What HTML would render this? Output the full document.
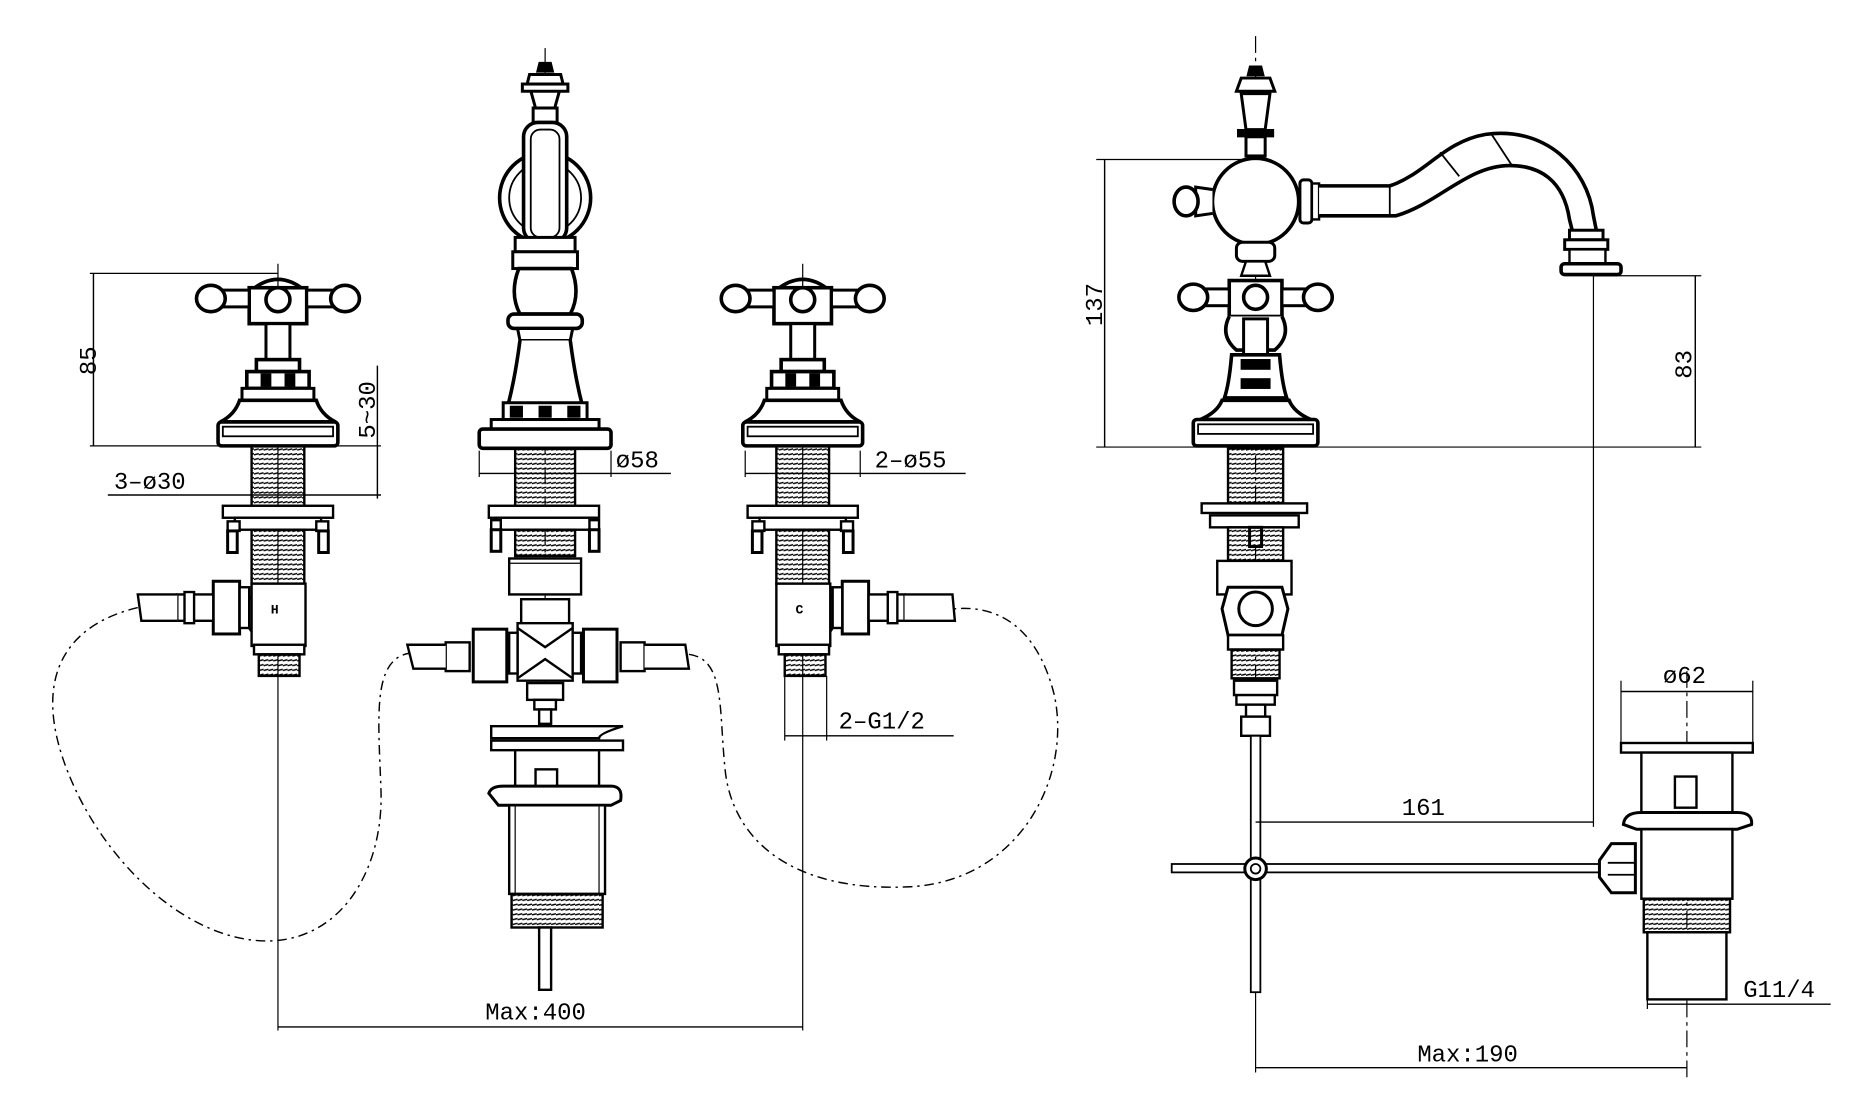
<!DOCTYPE html>
<html><head><meta charset="utf-8"><style>
html,body{margin:0;padding:0;background:#fff;}
svg{display:block}
text{font-family:"Liberation Mono","DejaVu Sans Mono",monospace;font-size:20px;fill:#000;stroke:none;font-weight:normal}
</style></head><body>
<svg width="1869" height="1105" viewBox="0 0 1560 922" xmlns="http://www.w3.org/2000/svg">
<defs>
<pattern id="th" width="4" height="4" patternUnits="userSpaceOnUse"><path d="M0 3.5L4 2.5" stroke="#000" stroke-width="1.2"/></pattern>
<g id="handle">
 <path d="M-22 14 Q0 -4 22 14" fill="none" stroke="#000" stroke-width="3"/>
 <rect x="-24" y="12" width="48" height="30" fill="#fff" stroke="#000" stroke-width="3"/>
 <circle cx="0" cy="22" r="10" fill="none" stroke="#000" stroke-width="3"/>
 <rect x="-48" y="14" width="24" height="14" fill="#fff" stroke="#000" stroke-width="2.5"/>
 <rect x="24" y="14" width="24" height="14" fill="#fff" stroke="#000" stroke-width="2.5"/>
 <ellipse cx="-56" cy="21" rx="12" ry="11" fill="#fff" stroke="#000" stroke-width="3"/>
 <ellipse cx="56" cy="21" rx="12" ry="11" fill="#fff" stroke="#000" stroke-width="3"/>
 <rect x="-10" y="42" width="20" height="30" fill="#fff" stroke="#000" stroke-width="2.5"/>
 <rect x="-18" y="72" width="36" height="10" fill="#fff" stroke="#000" stroke-width="3"/>
 <rect x="-26" y="82" width="52" height="14" fill="#fff" stroke="#000" stroke-width="3"/>
 <rect x="-14" y="84" width="8" height="10" fill="#000"/><rect x="6" y="84" width="8" height="10" fill="#000"/>
 <rect x="-30" y="96" width="60" height="10" fill="#fff" stroke="#000" stroke-width="2.5"/>
 <path d="M-32 106 Q-36 118 -48 124 L48 124 Q36 118 32 106Z" fill="#fff" stroke="#000" stroke-width="3"/>
 <rect x="-50" y="124" width="100" height="20" rx="3" fill="#fff" stroke="#000" stroke-width="3"/>
 <rect x="-46" y="128" width="92" height="8" fill="none" stroke="#000" stroke-width="1.5"/>
</g>
<g id="under">
 <rect x="-22" y="0" width="44" height="50" fill="url(#th)" stroke="#000" stroke-width="2"/>
 <rect x="-46" y="50" width="92" height="10" fill="#fff" stroke="#000" stroke-width="2"/>
 <rect x="-36" y="60" width="72" height="10" fill="#fff" stroke="#000" stroke-width="2"/>
 <rect x="-42" y="63" width="10" height="8" fill="#fff" stroke="#000" stroke-width="2"/>
 <rect x="32" y="63" width="10" height="8" fill="#fff" stroke="#000" stroke-width="2"/>
 <rect x="-42" y="71" width="8" height="18" fill="#fff" stroke="#000" stroke-width="2.5"/>
 <rect x="34" y="71" width="8" height="18" fill="#fff" stroke="#000" stroke-width="2.5"/>
 <rect x="-22" y="70" width="44" height="45" fill="url(#th)" stroke="#000" stroke-width="2"/>
</g>
</defs>
<g fill="none" stroke="#000">

<line x1="232" y1="220" x2="232" y2="860" stroke-width="1"/>
<use href="#handle" x="232" y="228"/>
<use href="#under" x="232" y="372"/>
<rect x="210" y="487" width="45" height="52" fill="#fff" stroke-width="2"/>
<path d="M210 497 Q198 512 210 527" stroke-width="2"/>
<rect x="178" y="485" width="22" height="44" fill="#fff" stroke-width="2.5"/>
<rect x="200" y="490" width="8" height="34" fill="#fff" stroke-width="2"/>
<rect x="148" y="496" width="30" height="22" fill="#fff" stroke-width="2"/>
<rect x="154" y="494" width="8" height="26" fill="#fff" stroke-width="2"/>
<path d="M148 496 L115 496 L118 518 L148 518" fill="#fff" stroke-width="2"/>
<text x="226" y="512" style="font-size:11px;font-weight:bold">H</text>
<rect x="212" y="538" width="42" height="8" fill="#fff" stroke-width="2"/>
<rect x="216" y="546" width="34" height="18" fill="url(#th)" stroke-width="2"/>
<line x1="78" y1="228" x2="78" y2="372" stroke-width="1.2"/>
<line x1="75" y1="228" x2="232" y2="228" stroke-width="1"/>
<line x1="75" y1="372" x2="190" y2="372" stroke-width="1"/>
<text transform="translate(80,313) rotate(-90)">85</text>
<line x1="315" y1="305" x2="315" y2="416" stroke-width="1.2"/>
<line x1="282" y1="372" x2="318" y2="372" stroke-width="1"/>
<line x1="90" y1="413" x2="318" y2="413" stroke-width="1.2"/>
<text transform="translate(313,366) rotate(-90)">5~30</text>
<text x="95" y="408">3–ø30</text>

<line x1="455" y1="40" x2="455" y2="600" stroke-width="1" stroke-dasharray="14,4,3,4"/>
<path d="M450 52 L460 52 L462 60 L448 60Z" fill="#000"/>
<path d="M442 62 L468 62 L470 70 L440 70Z" fill="#fff" stroke-width="2.5"/>
<path d="M442 72 L468 72 L463 90 L447 90Z" fill="#fff" stroke-width="2.5"/>
<rect x="436" y="70" width="38" height="6" fill="#fff" stroke-width="2.5"/>
<rect x="445" y="90" width="20" height="12" fill="#fff" stroke-width="2.5"/>
<circle cx="455" cy="165" r="38" stroke-width="3"/>
<circle cx="455" cy="165" r="30" stroke-width="1.5"/>
<rect x="437" y="102" width="36" height="100" rx="12" fill="#fff" stroke-width="3"/>
<rect x="443" y="108" width="24" height="90" rx="8" stroke-width="1.5"/>
<rect x="430" y="198" width="50" height="12" fill="#fff" stroke-width="2.5"/>
<rect x="428" y="210" width="54" height="14" fill="#fff" stroke-width="2.5"/>
<path d="M433 224 Q425 245 434 262 L476 262 Q485 245 477 224Z" fill="#fff" stroke-width="3"/>
<rect x="424" y="262" width="62" height="12" rx="5" fill="#fff" stroke-width="3"/>
<path d="M432 274 L478 274 L476 284 L434 284Z" fill="#fff" stroke-width="2.5"/>
<path d="M434 284 Q430 315 424 338 L486 338 Q480 315 476 284" fill="#fff" stroke-width="3"/>
<rect x="420" y="336" width="70" height="14" fill="#fff" stroke-width="2.5"/>
<rect x="426" y="339" width="10" height="9" fill="#000"/><rect x="450" y="339" width="10" height="9" fill="#000"/><rect x="474" y="339" width="10" height="9" fill="#000"/>
<rect x="410" y="350" width="90" height="8" fill="#fff" stroke-width="2.5"/>
<rect x="400" y="358" width="110" height="16" rx="3" fill="#fff" stroke-width="3"/>
<rect x="430" y="374" width="50" height="48" fill="url(#th)" stroke-width="2"/>
<rect x="408" y="422" width="92" height="10" fill="#fff" stroke-width="2"/>
<rect x="414" y="432" width="82" height="10" fill="#fff" stroke-width="2"/>
<rect x="410" y="434" width="8" height="8" fill="#fff" stroke-width="2"/>
<rect x="492" y="434" width="8" height="8" fill="#fff" stroke-width="2"/>
<rect x="410" y="442" width="8" height="18" fill="#fff" stroke-width="2.5"/>
<rect x="492" y="442" width="8" height="18" fill="#fff" stroke-width="2.5"/>
<rect x="430" y="442" width="50" height="22" fill="url(#th)" stroke-width="2"/>
<rect x="425" y="466" width="60" height="30" fill="#fff" stroke-width="2"/>
<line x1="425" y1="470" x2="485" y2="470" stroke-width="1"/>
<rect x="435" y="500" width="40" height="20" fill="#fff" stroke-width="2"/>
<path d="M432 520 L478 520 L478 568 L432 568Z" fill="#fff" stroke-width="2"/>
<path d="M432 524 L455 540 L478 524 M432 566 L455 550 L478 566" stroke-width="2"/>
<rect x="425" y="528" width="7" height="34" fill="#fff" stroke-width="2"/>
<rect x="478" y="528" width="7" height="34" fill="#fff" stroke-width="2"/>
<rect x="395" y="525" width="28" height="44" fill="#fff" stroke-width="2.5"/>
<rect x="487" y="525" width="28" height="44" fill="#fff" stroke-width="2.5"/>
<rect x="372" y="536" width="20" height="24" fill="#fff" stroke-width="2"/>
<rect x="518" y="536" width="20" height="24" fill="#fff" stroke-width="2"/>
<path d="M372 538 L340 538 L345 558 L372 558" fill="#fff" stroke-width="2"/>
<path d="M538 538 L572 538 L575 558 L538 558" fill="#fff" stroke-width="2"/>
<rect x="440" y="570" width="30" height="14" fill="#fff" stroke-width="2"/>
<rect x="446" y="584" width="18" height="8" fill="#fff" stroke-width="2"/>
<rect x="450" y="592" width="10" height="12" fill="#fff" stroke-width="2"/>
<path d="M410 606 L520 606 Q500 612 500 616 L410 616 Q410 612 410 606Z" fill="#fff" stroke-width="2"/>
<rect x="410" y="618" width="110" height="8" fill="#fff" stroke-width="2"/>
<rect x="430" y="626" width="70" height="30" fill="#fff" stroke-width="2"/>
<rect x="447" y="642" width="18" height="28" fill="#fff" stroke-width="2"/>
<path d="M408 662 Q410 656 420 656 L510 656 Q520 656 518 668 L510 672 L416 672Z" fill="#fff" stroke-width="2.5"/>
<rect x="425" y="672" width="80" height="74" fill="#fff" stroke-width="2"/>
<line x1="430" y1="672" x2="430" y2="746" stroke-width="1"/><line x1="500" y1="672" x2="500" y2="746" stroke-width="1"/>
<rect x="427" y="746" width="76" height="28" fill="url(#th)" stroke-width="2"/>
<rect x="450" y="774" width="10" height="52" fill="#fff" stroke-width="2"/>
<line x1="400" y1="376" x2="400" y2="398" stroke-width="1"/>
<line x1="400" y1="395" x2="560" y2="395" stroke-width="1.2"/>
<line x1="510" y1="376" x2="510" y2="398" stroke-width="1"/>
<text x="514" y="390">ø58</text>

<line x1="670" y1="220" x2="670" y2="860" stroke-width="1"/>
<use href="#handle" x="670" y="228"/>
<use href="#under" x="670" y="372"/>
<rect x="648" y="487" width="45" height="52" fill="#fff" stroke-width="2"/>
<path d="M693 497 Q705 512 693 527" stroke-width="2"/>
<rect x="703" y="485" width="22" height="44" fill="#fff" stroke-width="2.5"/>
<rect x="695" y="490" width="8" height="34" fill="#fff" stroke-width="2"/>
<rect x="725" y="496" width="30" height="22" fill="#fff" stroke-width="2"/>
<rect x="741" y="494" width="8" height="26" fill="#fff" stroke-width="2"/>
<path d="M755 496 L795 496 L797 518 L755 518" fill="#fff" stroke-width="2"/>
<text x="664" y="512" style="font-size:11px;font-weight:bold">C</text>
<rect x="650" y="538" width="42" height="8" fill="#fff" stroke-width="2"/>
<rect x="655" y="546" width="34" height="18" fill="url(#th)" stroke-width="2"/>
<line x1="622" y1="376" x2="622" y2="398" stroke-width="1"/>
<line x1="718" y1="376" x2="718" y2="398" stroke-width="1"/>
<line x1="622" y1="395" x2="806" y2="395" stroke-width="1.2"/>
<text x="730" y="390">2–ø55</text>
<line x1="655" y1="564" x2="655" y2="618" stroke-width="1"/>
<line x1="690" y1="564" x2="690" y2="618" stroke-width="1"/>
<line x1="655" y1="614" x2="796" y2="614" stroke-width="1.2"/>
<text x="700" y="608">2–G1/2</text>
<line x1="232" y1="857" x2="670" y2="857" stroke-width="1.2"/>
<text x="405" y="851">Max:400</text>

<path d="M115 507 C60 520 25 560 55 640 C85 720 160 790 230 785 C290 780 320 720 318 660 C316 600 310 550 342 545" stroke-width="1.2" stroke-dasharray="8,4,2,4"/>
<path d="M575 546 C605 550 600 590 605 640 C610 700 660 745 760 740 C850 735 895 650 880 580 C865 520 830 505 797 508" stroke-width="1.2" stroke-dasharray="8,4,2,4"/>

<line x1="1048" y1="30" x2="1048" y2="600" stroke-width="1" stroke-dasharray="14,4,3,4"/>
<path d="M1043 55 L1053 55 L1055 63 L1041 63Z" fill="#000"/>
<path d="M1036 65 L1060 65 L1064 76 L1032 76Z" fill="#fff" stroke-width="2.5"/>
<path d="M1036 78 L1060 78 L1056 108 L1040 108Z" fill="#fff" stroke-width="2.5"/>
<rect x="1033" y="108" width="30" height="6" fill="#000"/>
<rect x="1040" y="114" width="16" height="16" fill="#fff" stroke-width="2.5"/>
<line x1="915" y1="133" x2="1040" y2="133" stroke-width="1"/>
<circle cx="1048" cy="168" r="36" fill="#fff" stroke-width="3"/>
<path d="M1012 158 L998 156 L998 180 L1012 178" fill="#fff" stroke-width="2.5"/>
<ellipse cx="990" cy="168" rx="10" ry="12" fill="#fff" stroke-width="3"/>
<rect x="1085" y="150" width="10" height="36" rx="3" fill="#fff" stroke-width="2.5"/>
<rect x="1095" y="153" width="6" height="30" fill="#fff" stroke-width="2"/>
<path d="M1101 155 L1160 155 C1190 145 1205 118 1240 112 C1290 105 1325 140 1330 180 L1333 195 L1313 195 L1310 183 C1305 150 1285 138 1260 138 C1225 138 1200 170 1165 180 L1101 180" fill="#fff" stroke-width="3"/>
<line x1="1160" y1="155" x2="1160" y2="180" stroke-width="1.5"/>
<line x1="1202" y1="127" x2="1218" y2="147" stroke-width="1.5"/>
<line x1="1245" y1="112" x2="1262" y2="138" stroke-width="1.5"/>
<rect x="1310" y="192" width="28" height="8" fill="#fff" stroke-width="2.5"/>
<rect x="1306" y="200" width="36" height="8" fill="#fff" stroke-width="2.5"/>
<rect x="1310" y="208" width="30" height="12" fill="#fff" stroke-width="2"/>
<rect x="1303" y="220" width="50" height="9" rx="3" fill="#fff" stroke-width="3"/>
<rect x="1032" y="202" width="32" height="16" rx="5" fill="#fff" stroke-width="2.5"/>
<path d="M1040 218 L1056 218 L1060 230 L1036 230Z" fill="#fff" stroke-width="2"/>
<g transform="translate(1048,230)">
 <rect x="-22" y="4" width="44" height="30" fill="#fff" stroke="#000" stroke-width="3"/>
 <circle cx="0" cy="18" r="10" fill="none" stroke="#000" stroke-width="3"/>
 <rect x="-44" y="11" width="22" height="14" fill="#fff" stroke="#000" stroke-width="2.5"/>
 <rect x="22" y="11" width="22" height="14" fill="#fff" stroke="#000" stroke-width="2.5"/>
 <ellipse cx="-52" cy="18" rx="12" ry="11" fill="#fff" stroke="#000" stroke-width="3"/>
 <ellipse cx="52" cy="18" rx="12" ry="11" fill="#fff" stroke="#000" stroke-width="3"/>
 <path d="M-22 34 Q-30 50 -16 62 L16 62 Q30 50 22 34" fill="#fff" stroke="#000" stroke-width="3"/>
 <rect x="-10" y="36" width="20" height="40" fill="#fff" stroke="#000" stroke-width="2.5"/>
 <path d="M-20 66 Q-22 90 -26 102 L26 102 Q22 90 20 66Z" fill="#fff" stroke="#000" stroke-width="3"/>
 <rect x="-12" y="70" width="24" height="8" fill="#000"/>
 <rect x="-12" y="86" width="24" height="8" fill="#000"/>
 <path d="M-28 104 Q-32 114 -46 120 L46 120 Q32 114 28 104Z" fill="#fff" stroke="#000" stroke-width="3"/>
 <rect x="-52" y="120" width="104" height="22" rx="3" fill="#fff" stroke="#000" stroke-width="3"/>
 <rect x="-48" y="124" width="96" height="8" fill="none" stroke="#000" stroke-width="1.5"/>
</g>
<line x1="922" y1="133" x2="922" y2="373" stroke-width="1.2"/>
<line x1="915" y1="373" x2="1420" y2="373" stroke-width="1"/>
<text transform="translate(920,272) rotate(-90)">137</text>
<line x1="1330" y1="230" x2="1420" y2="230" stroke-width="1"/>
<line x1="1415" y1="230" x2="1415" y2="373" stroke-width="1.2"/>
<text transform="translate(1412,316) rotate(-90)">83</text>
<line x1="1330" y1="230" x2="1330" y2="690" stroke-width="1"/>
<rect x="1025" y="374" width="46" height="46" fill="url(#th)" stroke-width="2"/>
<rect x="1003" y="420" width="88" height="8" fill="#fff" stroke-width="2"/>
<rect x="1010" y="430" width="74" height="10" fill="#fff" stroke-width="2"/>
<rect x="1043" y="440" width="10" height="16" fill="#fff" stroke-width="2.5"/>
<rect x="1025" y="440" width="46" height="30" fill="url(#th)" stroke-width="2"/>
<rect x="1016" y="468" width="62" height="28" fill="#fff" stroke-width="2"/>
<path d="M1025 490 L1070 490 L1075 508 L1070 530 L1025 530 L1020 508Z" fill="#fff" stroke-width="2.5"/>
<circle cx="1048" cy="508" r="14" stroke-width="2.5"/>
<rect x="1025" y="530" width="46" height="12" fill="#fff" stroke-width="2"/>
<rect x="1028" y="542" width="40" height="24" fill="url(#th)" stroke-width="2"/>
<rect x="1030" y="568" width="36" height="12" fill="#fff" stroke-width="2"/>
<rect x="1032" y="580" width="32" height="8" fill="#fff" stroke-width="2"/>
<rect x="1040" y="588" width="16" height="10" fill="#fff" stroke-width="2"/>
<rect x="1036" y="598" width="24" height="16" fill="#fff" stroke-width="2"/>
<rect x="1044" y="614" width="8" height="214" fill="#fff" stroke-width="1.5"/>
<rect x="978" y="721" width="360" height="7" fill="#fff" stroke-width="1.5"/>
<circle cx="1048" cy="725" r="9" fill="#fff" stroke-width="2.5"/>
<circle cx="1048" cy="725" r="4" stroke-width="1.5"/>
<line x1="1408" y1="560" x2="1408" y2="900" stroke-width="1" stroke-dasharray="14,4,3,4"/>
<line x1="1353" y1="568" x2="1353" y2="625" stroke-width="1"/>
<line x1="1463" y1="568" x2="1463" y2="625" stroke-width="1"/>
<line x1="1353" y1="577" x2="1463" y2="577" stroke-width="1.2"/>
<text x="1388" y="570">ø62</text>
<rect x="1353" y="620" width="110" height="8" fill="#fff" stroke-width="2"/>
<rect x="1370" y="628" width="76" height="50" fill="#fff" stroke-width="2"/>
<rect x="1398" y="648" width="18" height="26" fill="#fff" stroke-width="2"/>
<path d="M1355 688 Q1356 678 1370 678 L1450 678 Q1463 678 1462 688 L1450 692 L1366 692Z" fill="#fff" stroke-width="2.5"/>
<rect x="1370" y="692" width="76" height="58" fill="#fff" stroke-width="2"/>
<path d="M1335 718 L1345 704 L1365 704 L1365 745 L1345 745 L1335 732Z" fill="#fff" stroke-width="2.5"/>
<line x1="1342" y1="720" x2="1365" y2="720" stroke-width="1.5"/>
<line x1="1342" y1="730" x2="1365" y2="730" stroke-width="1.5"/>
<rect x="1372" y="750" width="72" height="28" fill="url(#th)" stroke-width="2"/>
<rect x="1375" y="778" width="66" height="56" fill="#fff" stroke-width="2"/>
<line x1="1375" y1="834" x2="1375" y2="842" stroke-width="1"/>
<line x1="1375" y1="838" x2="1528" y2="838" stroke-width="1.2"/>
<text x="1455" y="832">G11/4</text>
<line x1="1048" y1="686" x2="1330" y2="686" stroke-width="1.2"/>
<text x="1170" y="680">161</text>
<line x1="1048" y1="828" x2="1048" y2="895" stroke-width="1"/>
<line x1="1048" y1="891" x2="1408" y2="891" stroke-width="1.2"/>
<text x="1183" y="886">Max:190</text>
</g>
</svg>
</body></html>
